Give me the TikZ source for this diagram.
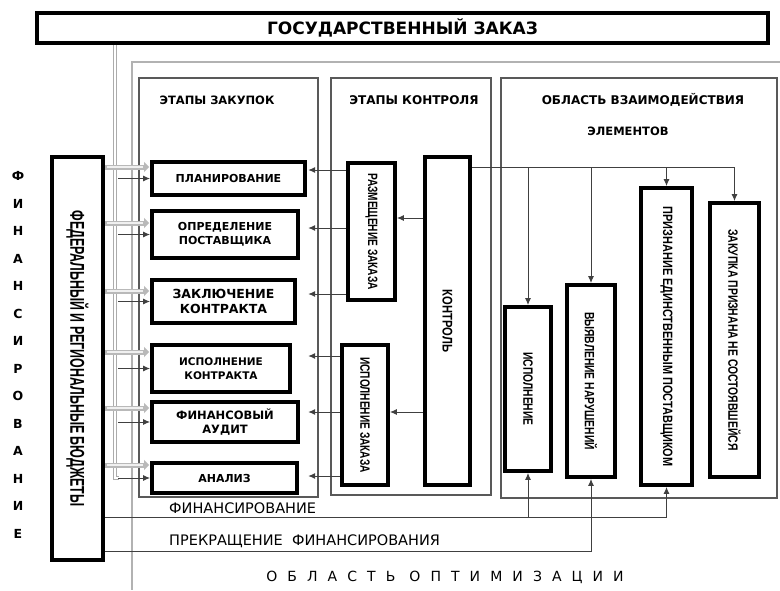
\documentclass[tikz,border=0pt]{standalone}
\usepackage{fontspec}
\setmainfont{DejaVu Sans}
\newfontfamily\nar{Liberation Sans}
\newfontfamily\lsp[LetterSpace=72]{DejaVu Sans}
\usetikzlibrary{arrows.meta,calc,decorations.markings}
\newcommand\vtxt[3]{{\fontsize{#1}{#1}\selectfont\nar\bfseries\scalebox{#2}[1]{#3}}}
\newcommand\bfs[1]{\fontsize{#1}{#1}\selectfont\bfseries}
\begin{document}
\begin{tikzpicture}[x=1pt,y=-1pt,
  blackbox/.style={draw=black, line width=3.8pt, fill=white, inner sep=0pt, align=center},
  vbox/.style={draw=black, line width=3.8pt, fill=white, inner sep=0pt},
  frame/.style={draw=gray!70!black, line width=2.4pt, inner sep=0pt},
  ln/.style={draw=black!75, line width=1pt},
  arr/.style={ln, -{Latex[length=7pt,width=6pt]}},
  budarr/.style={line width=5pt, draw=gray!55, -{Triangle[length=5pt,width=10pt]}},
  budcore/.style={line width=2.4pt, draw=gray!12},
  dbl/.style={draw=gray!65, double=white, double distance=1.6pt, line width=1pt},
  midarr/.style={ln, postaction={decorate}, decoration={markings, mark=at position 0.8 with {\arrow{Latex[length=7pt,width=6pt]}}}}
]
\useasboundingbox (0,0) rectangle (780,590);
\fill[white] (0,0) rectangle (780,590);

% outer optimisation area frame
\draw[draw=gray!60, line width=2pt] (780,62) -- (132,62) -- (132,590);

% group frames
\node[frame, minimum width=179pt, minimum height=419pt] (frZ) at (228.5,287.5) {};
\node[frame, minimum width=160pt, minimum height=417pt] (frK) at (411,286.5) {};
\node[frame, minimum width=276pt, minimum height=420pt] (frO) at (639,288) {};
\node[font=\bfs{11.5}] (hZ) at (217,100) {ЭТАПЫ ЗАКУПОК};
\node[font=\bfs{12}] (hK) at (414,100) {ЭТАПЫ КОНТРОЛЯ};
\node[font=\bfs{12}] (hO) at (643,100) {ОБЛАСТЬ ВЗАИМОДЕЙСТВИЯ};
\node[font=\bfs{11.5}] (hO2) at (628,131) {ЭЛЕМЕНТОВ};

% top box
\node[blackbox, minimum width=731pt, minimum height=30pt, font=\bfs{17}] (top) at (402.5,28) {ГОСУДАРСТВЕННЫЙ ЗАКАЗ};

% gray double line from the state order
\coordinate (g) at ($(top.south west)+(80,0)$);

% budgets box
\node[vbox, minimum width=51pt, minimum height=403pt] (bud) at (77.5,358.5) {};
\node[rotate=-90] (budt) at (bud.center) {\vtxt{20}{0.62}{ФЕДЕРАЛЬНЫЙ И РЕГИОНАЛЬНЫЕ БЮДЖЕТЫ}};

% vertical word
\foreach \ch [count=\i from 0] in {Ф,И,Н,А,Н,С,И,Р,О,В,А,Н,И,Е}
  \node[font=\bfs{12.5}] (v\i) at (18,176+27.5*\i) {\ch};

% purchase stages
\node[blackbox, minimum width=153pt, minimum height=33pt, font=\bfs{11}] (plan) at (228.5,178.5) {ПЛАНИРОВАНИЕ};
\node[blackbox, minimum width=146pt, minimum height=47pt, font=\bfs{11}] (opr) at (225,234.5) {ОПРЕДЕЛЕНИЕ\\[3pt]ПОСТАВЩИКА};
\node[blackbox, minimum width=143pt, minimum height=43pt, font=\bfs{12.5}] (zakl) at (223.5,301.5) {ЗАКЛЮЧЕНИЕ\\[3pt]КОНТРАКТА};
\node[blackbox, minimum width=138pt, minimum height=47pt, font=\bfs{10.5}] (isp) at (221,368.5) {ИСПОЛНЕНИЕ\\[3pt]КОНТРАКТА};
\node[blackbox, minimum width=146pt, minimum height=40pt, font=\bfs{11.5}] (fin) at (225,422) {ФИНАНСОВЫЙ\\[3pt]АУДИТ};
\node[blackbox, minimum width=145pt, minimum height=30pt, font=\bfs{11}] (anal) at (224.5,478) {АНАЛИЗ};

% control stages
\node[vbox, minimum width=47pt, minimum height=137pt] (razm) at (371.5,231.5) {};
\node[rotate=-90] (razmt) at (razm.center) {\vtxt{13.5}{0.75}{РАЗМЕЩЕНИЕ ЗАКАЗА}};
\node[vbox, minimum width=46pt, minimum height=140pt] (ispz) at (365,415) {};
\node[rotate=-90] (ispzt) at (ispz.center) {\vtxt{13.5}{0.75}{ИСПОЛНЕНИЕ ЗАКАЗА}};
\node[vbox, minimum width=45pt, minimum height=328pt] (kontr) at (447.5,321) {};
\node[rotate=-90] (kontrt) at (kontr.center) {\vtxt{14}{0.8}{КОНТРОЛЬ}};

% interaction elements
\node[vbox, minimum width=46pt, minimum height=164pt] (r1) at (528,389) {};
\node[rotate=-90] (r1t) at (r1.center) {\vtxt{13.5}{0.76}{ИСПОЛНЕНИЕ}};
\node[vbox, minimum width=48pt, minimum height=192pt] (r2) at (591,381) {};
\node[rotate=-90] (r2t) at (r2.center) {\vtxt{13.5}{0.76}{ВЫЯВЛЕНИЕ НАРУШЕНИЙ}};
\node[vbox, minimum width=51pt, minimum height=297pt] (r3) at (666.5,336.5) {};
\node[rotate=-90] (r3t) at (r3.center) {\vtxt{13.5}{0.81}{ПРИЗНАНИЕ ЕДИНСТВЕННЫМ ПОСТАВЩИКОМ}};
\node[vbox, minimum width=49pt, minimum height=274pt] (r4) at (734.5,340) {};
\node[rotate=-90] (r4t) at (r4.center) {\vtxt{13.5}{0.77}{ЗАКУПКА ПРИЗНАНА НЕ СОСТОЯВШЕЙСЯ}};

% state order -> control
\draw[midarr] ($(kontr.north)+(9.5,0)$ |- top.south) -- ($(kontr.north)+(9.5,0)$);

% gray double line down to analysis
\draw[dbl] (g) -- (g |- anal.west) -- ($(g |- anal.west)+(4,0)$);
\foreach \b in {plan,opr,zakl,isp,fin,anal}
  \draw[arr] ($(g |- \b.west)+(3,0)$) -- (\b.west);

% budget arrows (thick gray)
\foreach \b/\d in {plan/-11.5,opr/-11.5,zakl/-10.5,isp/-16.5,fin/-14,anal/-13}{
  \draw[budarr] ($(bud.east |- \b.west)+(0,\d)$) -- ($(\b.west)+(-1,\d)$);
  \draw[budcore] ($(bud.east |- \b.west)+(2,\d)$) -- ($(\b.west)+(-7,\d)$);
}

% control -> placement / execution of order
\draw[arr] ($(kontr.west |- razm.east)+(0,-13.5)$) -- ($(razm.east)+(0,-13.5)$);
\draw[arr] ($(kontr.west |- ispz.east)+(0,-3)$) -- ($(ispz.east)+(0,-3)$);

% placement -> stages
\draw[arr] ($(razm.west |- plan.east)+(0,-8.5)$) -- ($(frZ.east |- plan.east)+(-11,-8.5)$);
\draw[arr] ($(razm.west |- opr.east)+(0,-6.5)$) -- ($(frZ.east |- opr.east)+(-11,-6.5)$);
\draw[arr] ($(razm.west |- zakl.east)+(0,-7.5)$) -- ($(frZ.east |- zakl.east)+(-11,-7.5)$);
% execution of order -> stages
\draw[arr] ($(ispz.west |- isp.east)+(0,-12.5)$) -- ($(frZ.east |- isp.east)+(-11,-12.5)$);
\draw[arr] ($(ispz.west |- fin.east)+(0,-10)$) -- ($(frZ.east |- fin.east)+(-11,-10)$);
\draw[arr] ($(ispz.west |- anal.east)+(0,-2)$) -- ($(frZ.east |- anal.east)+(-11,-2)$);

% control -> interaction elements
\coordinate (kr) at ($(kontr.north east)+(0,12)$);
\draw[ln] (kr) -- (kr -| r4.north);
\draw[arr] (kr -| r1.north) -- (r1.north);
\draw[arr] (kr -| r2.north) -- (r2.north);
\draw[arr] (kr -| r3.north) -- (r3.north);
\draw[arr] (kr -| r4.north) -- (r4.north);

% financing lines
\coordinate (f1) at ($(bud.east)+(0,158.5)$);
\coordinate (f2) at ($(bud.east)+(0,192.5)$);
\draw[ln] (f1) -- (f1 -| r3.south);
\draw[arr] (f1 -| r3.south) -- (r3.south);
\draw[arr] (f1 -| r1.south) -- (r1.south);
\draw[arr] (f2) -| (r2.south);

\node[anchor=south west, font=\fontsize{14.5}{14.5}\selectfont, inner sep=0pt] (lf1) at (169,514) {ФИНАНСИРОВАНИЕ};
\node[anchor=south west, font=\fontsize{14.5}{14.5}\selectfont, inner sep=0pt] (lf2) at (169,548) {ПРЕКРАЩЕНИЕ\ \ ФИНАНСИРОВАНИЯ};
\node[font=\fontsize{14}{14}\selectfont\lsp] (lopt) at (445,577) {ОБЛАСТЬ\quad ОПТИМИЗАЦИИ};
\end{tikzpicture}
\end{document}
